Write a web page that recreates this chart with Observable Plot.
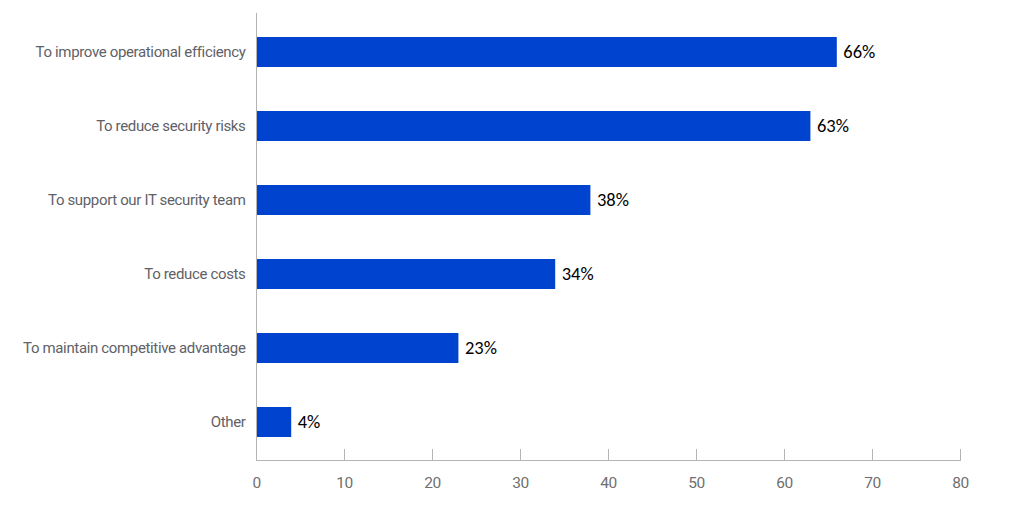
<!DOCTYPE html>
<html>
<head>
<meta charset="utf-8">
<script src="https://cdn.jsdelivr.net/npm/d3@7"></script>
<script src="https://cdn.jsdelivr.net/npm/@observablehq/plot@0.6"></script>
<style>
  html, body { margin: 0; padding: 0; background: #fff; }
  #chart svg { display: block; }
  #chart svg g[aria-label="y-axis tick label"] text { letter-spacing: -0.35px; }
  #chart svg g[aria-label="x-axis tick label"] text { letter-spacing: -0.5px; }
</style>
</head>
<body>
<div id="chart"></div>
<script>
const categories = [
  "To improve operational efficiency",
  "To reduce security risks",
  "To support our IT security team",
  "To reduce costs",
  "To maintain competitive advantage",
  "Other"
];
const values = [66, 63, 38, 34, 23, 4];
const xTicks = [0, 10, 20, 30, 40, 50, 60, 70, 80];

const data = categories.map((c, i) => ({category: c, value: values[i]}));

const labelFont = "Roboto, sans-serif";

const chart = Plot.plot({
  width: 1024,
  height: 525,
  marginTop: 13,
  marginBottom: 65,
  marginLeft: 256,
  marginRight: 64,
  style: {fontFamily: labelFont, fontSize: "15px", background: "#fff"},
  x: {domain: [0, 80], ticks: xTicks},
  y: {domain: categories, padding: 0.6, paddingOuter: 0.3, label: null},
  marks: [
    Plot.barX(data, {x: "value", y: "category", fill: "#0043ce"}),
    Plot.text(data, {
      x: "value", y: "category", text: d => `${d.value}%`,
      textAnchor: "start", dx: 6, fill: "#000", fontSize: 18.5,
      fontFamily: "Carlito, Lato, sans-serif"
    }),
    Plot.frame({anchor: "left", stroke: "#b4b4b4"}),
    Plot.frame({anchor: "bottom", stroke: "#b4b4b4"}),
    Plot.axisX({ticks: xTicks, tickSize: -11, text: null, stroke: "#b4b4b4", label: null}),
    Plot.axisX({ticks: xTicks, tickSize: 0, tickPadding: 16, fill: "#6f6f6f", fontSize: 15.5, label: null}),
    Plot.axisY({tickSize: 0, tickPadding: 11, fill: "#5f6168", fontSize: 15, label: null})
  ]
});
document.getElementById("chart").appendChild(chart);
</script>
</body>
</html>
